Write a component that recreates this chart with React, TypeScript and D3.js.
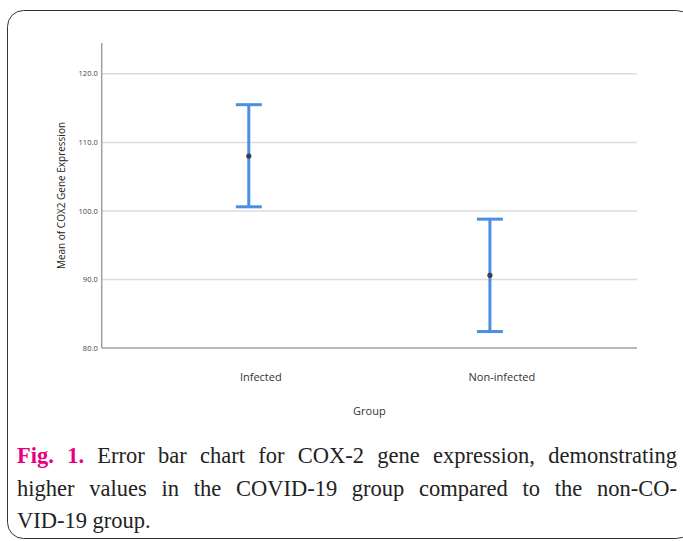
import React, { useLayoutEffect, useRef } from "react";
import * as d3 from "d3";

const categories = ["Infected", "Non-infected"];
const means = [108.0, 90.6];
const upper = [115.5, 98.8];
const lower = [100.6, 82.4];
const yTicks = [80, 90, 100, 110, 120];
const yTitle = "Mean of COX2 Gene Expression";
const xTitle = "Group";
const captionLines = [
  { bold: "Fig. 1.", rest: " Error bar chart for COX-2 gene expression, demonstrating", justify: true },
  { bold: "", rest: "higher values in the COVID-19 group compared to the non-CO-", justify: true },
  { bold: "", rest: "VID-19 group.", justify: false },
];

const W = 683;
const H = 541;
const plotLeft = 101.7;
const plotRight = 637;
const plotBottom = 348;
const plotTop = 43;

export default function App() {
  const capRef = useRef<SVGGElement>(null);

  const x = d3.scalePoint<string>().domain(categories).range([plotLeft, plotRight]).padding(0.61);
  const y = d3.scaleLinear().domain([80, 124.5]).range([plotBottom, plotTop]);

  const capX0 = 17;
  const capX1 = 677;
  const capBase = [463, 496, 528];

  useLayoutEffect(() => {
    if (!capRef.current) return;
    d3.select(capRef.current)
      .selectAll<SVGTextElement, unknown>("text.just")
      .each(function () {
        const el = this as SVGTextElement;
        el.setAttribute("word-spacing", "0");
        const len = el.getComputedTextLength();
        const spaces = (el.textContent || "").split(" ").length - 1;
        if (spaces > 0) {
          el.setAttribute("word-spacing", String((capX1 - capX0 - len) / spaces));
        }
      });
  }, []);

  const blue = "#4a8fe0";
  const capHalf = 13;

  return (
    <svg width={W} height={H} style={{ position: "absolute", left: 0, top: 0, background: "#fff" }}>
      <rect x={7.5} y={10.5} width={685} height={528} rx={16} ry={16} fill="#fff" stroke="#333" strokeWidth={1} />
      {/* gridlines */}
      {yTicks.filter((t) => t > 80).map((t) => (
        <line key={t} x1={plotLeft} x2={plotRight} y1={y(t)} y2={y(t)} stroke="#dcdcdc" strokeWidth={1.5} />
      ))}
      {/* axes */}
      <line x1={plotLeft} x2={plotLeft} y1={plotTop} y2={plotBottom} stroke="#a0a0a0" strokeWidth={1.5} />
      <line x1={plotLeft} x2={plotRight} y1={plotBottom} y2={plotBottom} stroke="#a0a0a0" strokeWidth={1.5} />
      {/* y tick labels */}
      {yTicks.map((t) => (
        <text key={t} x={plotLeft - 4} y={y(t)} dy="0.35em" textAnchor="end" fontFamily="Open Sans" fontSize={7.5} fill="#444">
          {d3.format(".1f")(t)}
        </text>
      ))}
      {/* y title */}
      <text
        transform={`translate(65,${(plotTop + plotBottom) / 2}) rotate(-90)`}
        textAnchor="middle"
        fontFamily="Open Sans"
        fontSize={10}
        fill="#222"
      >
        {yTitle}
      </text>
      {/* x labels */}
      {categories.map((c) => (
        <text key={c} x={(x(c) as number) + 12} y={381} textAnchor="middle" fontFamily="Open Sans" fontSize={11} fill="#333">
          {c}
        </text>
      ))}
      <text x={(plotLeft + plotRight) / 2} y={415} textAnchor="middle" fontFamily="Open Sans" fontSize={11} fill="#333">
        {xTitle}
      </text>
      {/* error bars */}
      {categories.map((c, i) => {
        const cx = x(c) as number;
        return (
          <g key={c}>
            <line x1={cx} x2={cx} y1={y(upper[i])} y2={y(lower[i])} stroke={blue} strokeWidth={3} />
            <line x1={cx - capHalf} x2={cx + capHalf} y1={y(upper[i])} y2={y(upper[i])} stroke={blue} strokeWidth={3} />
            <line x1={cx - capHalf} x2={cx + capHalf} y1={y(lower[i])} y2={y(lower[i])} stroke={blue} strokeWidth={3} />
            <circle cx={cx} cy={y(means[i])} r={2.6} fill="#3a3f4a" />
          </g>
        );
      })}
      {/* caption */}
      <g ref={capRef}>
        {captionLines.map((l, i) => (
          <text
            key={i}
            className={l.justify ? "just" : ""}
            x={capX0}
            y={capBase[i]}
            fontFamily="Liberation Serif"
            fontSize={22.5}
            fill="#222"
            style={{ whiteSpace: "pre" }}
          >
            {l.bold ? (
              <tspan fontWeight="bold" fill="#e6007e">
                {l.bold}
              </tspan>
            ) : null}
            {l.rest}
          </text>
        ))}
      </g>
    </svg>
  );
}
